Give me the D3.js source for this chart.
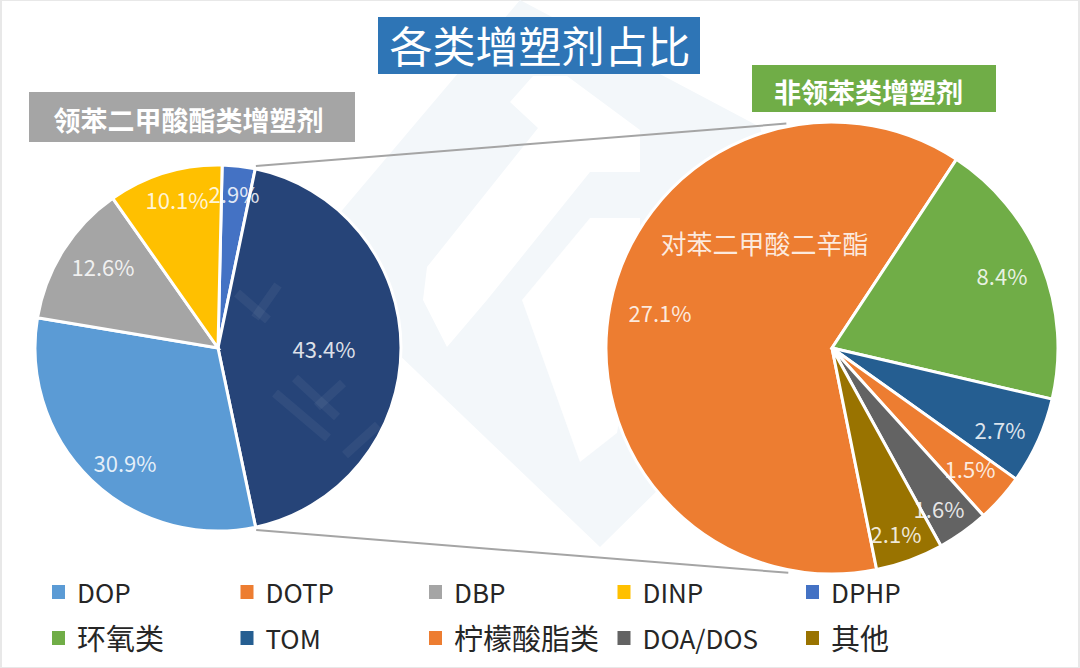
<!DOCTYPE html>
<html>
<head>
<meta charset="utf-8">
<script src="https://cdn.jsdelivr.net/npm/d3@7"></script>
<style>
body { margin: 0; background: #fff; }
text { font-family: "Noto Sans CJK SC", "Noto Sans", sans-serif; }
.pct { fill: #fff; font-size: 22px; text-anchor: middle; dominant-baseline: central; fill-opacity: .85; }
.legend-text { fill: #262626; dominant-baseline: central; }
</style>
</head>
<body>
<svg width="1080" height="668"></svg>
<script>
var title = '各类增塑剂占比',
	leftTitle = '领苯二甲酸酯类增塑剂',
	rightTitle = '非领苯类增塑剂',
	orangeName = '对苯二甲酸二辛酯';

//Left pie, clockwise from 12 o'clock. The navy slice is the one blown up on the right.
var leftNames = ['DPHP', '非领苯类', 'DOP', 'DBP', 'DINP'],
	leftValues = [2.9, 43.4, 30.9, 12.6, 10.1],
	leftLabels = ['2.9%', '43.4%', '30.9%', '12.6%', '10.1%'],
	leftColors = ['#4472c4', '#264478', '#5b9bd5', '#a5a5a5', '#ffc000'];

//Right pie, clockwise from the orange slice.
var rightNames = ['DOTP', '环氧类', 'TOM', '柠檬酸脂类', 'DOA/DOS', '其他'],
	rightValues = [27.1, 8.4, 2.7, 1.5, 1.6, 2.1],
	rightLabels = ['27.1%', '8.4%', '2.7%', '1.5%', '1.6%', '2.1%'],
	rightColors = ['#ed7d31', '#70ad47', '#255e91', '#ed7d31', '#636363', '#997300'];

var legendNames = ['DOP', 'DOTP', 'DBP', 'DINP', 'DPHP', '环氧类', 'TOM', '柠檬酸脂类', 'DOA/DOS', '其他'],
	legendColors = ['#5b9bd5', '#ed7d31', '#a5a5a5', '#ffc000', '#4472c4', '#70ad47', '#255e91', '#ed7d31', '#636363', '#997300'];

var svg = d3.select('svg');
var toRad = Math.PI / 180;

//Page frame.
svg.append('rect').attr('x', 1).attr('y', 0).attr('width', 1078).attr('height', 668)
	.style('fill', 'none').style('stroke', '#e8e8e8').style('stroke-width', 2);

//Faint watermark behind the pies.
var mark = svg.append('g');
mark.append('path').attr('d', 'M520 0L300 260L600 547L820 330L760 127Z').style('fill', '#f3f7fa');
mark.append('path').style('fill', '#fff')
	.attr('d', 'M510 102L533 76L567 76L640 130L640 172L590 172L487 300L447 347L423 300L427 267L538 128Z');
mark.append('path').style('fill', '#fff')
	.attr('d', 'M590 218L640 218L640 300L617 433L580 462L522 300Z');

//Lines joining the two pies.
var joins = svg.append('g').style('stroke', '#a5a5a5').style('stroke-width', 2);

function drawPie(cx, cy, radius, startDeg, values, colors, labels, labelAt) {
	var pie = d3.pie().sort(null).startAngle(startDeg * toRad).endAngle((startDeg + 360) * toRad);
	var arc = d3.arc().innerRadius(0).outerRadius(radius);
	var g = svg.append('g').attr('transform', 'translate(' + cx + ',' + cy + ')');
	var slices = pie(values);
	g.selectAll('path').data(slices).enter().append('path')
		.attr('d', arc)
		.style('fill', function(d, i) { return colors[i]; })
		.style('stroke', '#fff')
		.style('stroke-width', 3);
	g.selectAll('text').data(slices).enter().append('text')
		.attr('class', 'pct')
		.attr('x', function(d, i) { return labelAt[i][0]; })
		.attr('y', function(d, i) { return labelAt[i][1]; })
		.text(function(d, i) { return labels[i]; });
	return {g: g, slices: slices};
}

//Label spots relative to each pie centre, the way they sit in the picture.
var left = drawPie(218, 348, 183, 1.3, leftValues, leftColors, leftLabels,
	[[16, -155], [106, 0], [-93, 114], [-115, -82], [-41, -149]]);
var right = drawPie(832, 348, 226, 168.6, rightValues, rightColors, rightLabels,
	[[-172, -36], [170, -73], [168, 81], [138, 120], [107, 160], [64, 185]]);

//Watermark strokes showing through the navy slice.
var strokes = svg.append('g').style('stroke', '#fff').style('stroke-opacity', 0.05).style('stroke-width', 9);
[[275, 393, 328, 438], [295, 378, 337, 417], [343, 383, 317, 407], [237, 293, 268, 320], [255, 318, 278, 285], [345, 455, 378, 425]].forEach(function(s) {
	strokes.append('line').attr('x1', s[0]).attr('y1', s[1]).attr('x2', s[2]).attr('y2', s[3]);
});

//Join the ends of the navy slice to the top and bottom of the right pie.
function rim(cx, cy, r, a) { return [cx + r * Math.sin(a), cy - r * Math.cos(a)]; }
var navy = left.slices[1];
[[navy.startAngle, -11.5 * toRad], [navy.endAngle, 191 * toRad]].forEach(function(p) {
	var a = rim(218, 348, 186, p[0]), b = rim(832, 348, 229, p[1]);
	joins.append('line').attr('x1', a[0]).attr('y1', a[1]).attr('x2', b[0]).attr('y2', b[1]);
});

right.g.append('text').attr('class', 'pct')
	.attr('x', -67.5).attr('y', -106)
	.style('font-size', '26px')
	.text(orangeName);

//Title boxes. The text sits a little off the box centre in the picture.
function box(x, y, w, h, fill, txt, size, weight, textX, textY) {
	svg.append('rect').attr('x', x).attr('y', y).attr('width', w).attr('height', h).style('fill', fill);
	svg.append('text').attr('x', textX).attr('y', textY)
		.style('fill', '#fff').style('font-size', size + 'px').style('font-weight', weight)
		.style('text-anchor', 'middle').style('dominant-baseline', 'central')
		.text(txt);
}
box(378, 17, 322, 57, '#2e75b6', title, 43, 400, 540, 44);
box(29, 92, 326, 50, '#a5a5a5', leftTitle, 27, 700, 188.5, 119);
box(752, 65, 244, 47, '#70ad47', rightTitle, 27, 700, 868.5, 91);

//Legend: two rows of five. Chinese names run larger than the Latin ones.
var legendX = d3.scalePoint().domain(d3.range(5)).range([52, 806]),
	legendY = d3.scalePoint().domain([0, 1]).range([592, 638]);
var items = svg.append('g').selectAll('g').data(legendNames).enter().append('g')
	.attr('transform', function(d, i) { return 'translate(' + legendX(i % 5) + ',' + legendY(Math.floor(i / 5)) + ')'; });
items.append('rect').attr('y', -7).attr('width', 13).attr('height', 14)
	.style('fill', function(d, i) { return legendColors[i]; });
items.append('text').attr('class', 'legend-text').attr('x', 25).attr('y', -1)
	.style('font-size', function(d) { return /[\u4e00-\u9fff]/.test(d) ? '29px' : '26px'; })
	.text(function(d) { return d; });
</script>
</body>
</html>
